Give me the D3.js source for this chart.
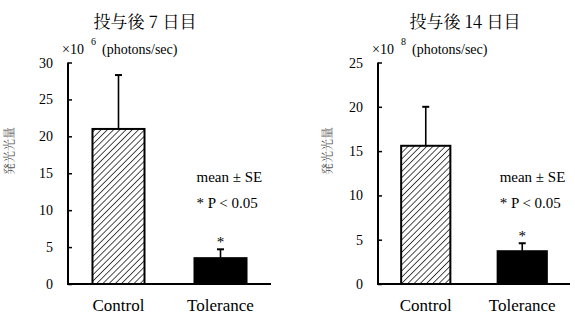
<!DOCTYPE html>
<html>
<head>
    <meta charset="UTF-8">
    <title>発光光量</title>
    <script src="https://d3js.org/d3.v7.min.js"></script>
    <style>
        body { margin: 0; background: white; }
    </style>
</head>
<body>
<svg width="575" height="319"></svg>

<script type="application/javascript">

    const groups = ["Control", "Tolerance"];

    const day7Values = [21.0, 3.5];
    const day7Errors = [7.3, 1.2];
    const day14Values = [15.6, 3.7];
    const day14Errors = [4.4, 0.9];

    const titles = ["投与後 7 日目", "投与後 14 日目"];
    const exponents = ["6", "8"];
    const day7Ticks = [0, 5, 10, 15, 20, 25, 30];
    const day14Ticks = [0, 5, 10, 15, 20, 25];
    const yLabel = "発光光量";
    const unitLabel = "(photons/sec)";
    const noteLines = ["mean ± SE", "* P < 0.05"];
    const significance = ["", "*"];

    const SERIF = "Liberation Serif";
    const JP = "Noto Serif CJK JP";

    const svg = d3.select("svg");

    // patron rayado para la barra Control
    svg.append("defs")
        .append("pattern")
        .attr("id", "hatch")
        .attr("patternUnits", "userSpaceOnUse")
        .attr("width", 4.4)
        .attr("height", 4.4)
        .attr("patternTransform", "rotate(45)")
        .append("line")
        .attr("x1", 0).attr("y1", 0)
        .attr("x2", 0).attr("y2", 4.4)
        .attr("stroke", "black")
        .attr("stroke-width", 1.4);

    const panels = [
        {values: day7Values, errors: day7Errors, ticks: day7Ticks, title: titles[0], exp: exponents[0],
            x0: 68, x1: 271, titleX: 145, labelX: 10},
        {values: day14Values, errors: day14Errors, ticks: day14Ticks, title: titles[1], exp: exponents[1],
            x0: 378, x1: 570, titleX: 465, labelX: 328}
    ];

    panels.forEach(dibujar);

    function texto(g, size, fam) {
        return g.append("text")
            .attr("font-family", fam || SERIF)
            .attr("font-size", size)
            .attr("fill", "black");
    }

    function dibujar(p) {
        const yTop = 62.5, yBottom = 284;
        const g = svg.append("g");

        const x = d3.scaleBand()
            .domain(groups)
            .range([p.x0, p.x1])
            .paddingInner(0.49)
            .paddingOuter(0.24);

        const y = d3.scaleLinear()
            .domain([0, d3.max(p.ticks)])
            .range([yBottom, yTop]);

        const data = groups.map(function (name, i) {
            return {name: name, value: p.values[i], err: p.errors[i], star: significance[i]};
        });

        // barras
        g.selectAll("rect")
            .data(data)
            .enter()
            .append("rect")
            .attr("x", d => x(d.name))
            .attr("width", x.bandwidth())
            .attr("y", d => y(d.value))
            .attr("height", d => y(0) - y(d.value))
            .attr("fill", (d, i) => i === 0 ? "url(#hatch)" : "black")
            .attr("stroke", "black")
            .attr("stroke-width", 2);

        // barras de error
        g.selectAll(".err")
            .data(data)
            .enter()
            .append("line")
            .attr("x1", d => x(d.name) + x.bandwidth() / 2)
            .attr("x2", d => x(d.name) + x.bandwidth() / 2)
            .attr("y1", d => y(d.value))
            .attr("y2", d => y(d.value + d.err))
            .attr("stroke", "black")
            .attr("stroke-width", 1.6);

        g.selectAll(".cap")
            .data(data)
            .enter()
            .append("line")
            .attr("x1", d => x(d.name) + x.bandwidth() / 2 - 3.5)
            .attr("x2", d => x(d.name) + x.bandwidth() / 2 + 3.5)
            .attr("y1", d => y(d.value + d.err))
            .attr("y2", d => y(d.value + d.err))
            .attr("stroke", "black")
            .attr("stroke-width", 2);

        data.forEach(function (d) {
            texto(g, 15)
                .attr("text-anchor", "middle")
                .attr("x", x(d.name) + x.bandwidth() / 2)
                .attr("y", y(d.value + d.err) - 2)
                .text(d.star);
        });

        // eje y
        const yAxis = g.append("g")
            .attr("transform", "translate(" + p.x0 + ",0)")
            .call(d3.axisRight(y).tickValues(p.ticks).tickSize(4).tickFormat(""));
        yAxis.select(".domain").remove();
        yAxis.selectAll("line").attr("stroke-width", 1.5);

        g.append("line")
            .attr("x1", p.x0).attr("x2", p.x0)
            .attr("y1", yTop).attr("y2", yBottom)
            .attr("stroke", "black")
            .attr("stroke-width", 2);

        p.ticks.forEach(function (t) {
            texto(g, 14)
                .attr("text-anchor", "end")
                .attr("x", p.x0 - 15)
                .attr("y", y(t) + 5)
                .text(t);
        });

        // eje x
        g.append("line")
            .attr("x1", p.x0 - 1).attr("x2", p.x1)
            .attr("y1", yBottom).attr("y2", yBottom)
            .attr("stroke", "black")
            .attr("stroke-width", 2);

        groups.forEach(function (c) {
            texto(g, 17)
                .attr("text-anchor", "middle")
                .attr("x", x(c) + x.bandwidth() / 2)
                .attr("y", 311)
                .text(c);
        });

        // titulo
        texto(g, 17, JP)
            .attr("text-anchor", "middle")
            .attr("x", p.titleX)
            .attr("y", 28)
            .text(p.title);

        // unidades
        texto(g, 14).attr("x", p.x0 - 6).attr("y", 54).text("×10");
        texto(g, 10).attr("x", p.x0 + 23).attr("y", 45).text(p.exp);
        texto(g, 14).attr("x", p.x0 + 34).attr("y", 54).text(unitLabel);

        // etiqueta vertical
        texto(g, 12, JP)
            .attr("fill", "#555")
            .attr("text-anchor", "middle")
            .attr("transform", "translate(" + (p.labelX + 4) + ",151) rotate(-90)")
            .text(yLabel);

        // notas
        noteLines.forEach(function (n, i) {
            texto(g, 15)
                .attr("x", x("Tolerance") + 2)
                .attr("y", 182 + i * 26)
                .text(n);
        });
    }

</script>
</body>
</html>
